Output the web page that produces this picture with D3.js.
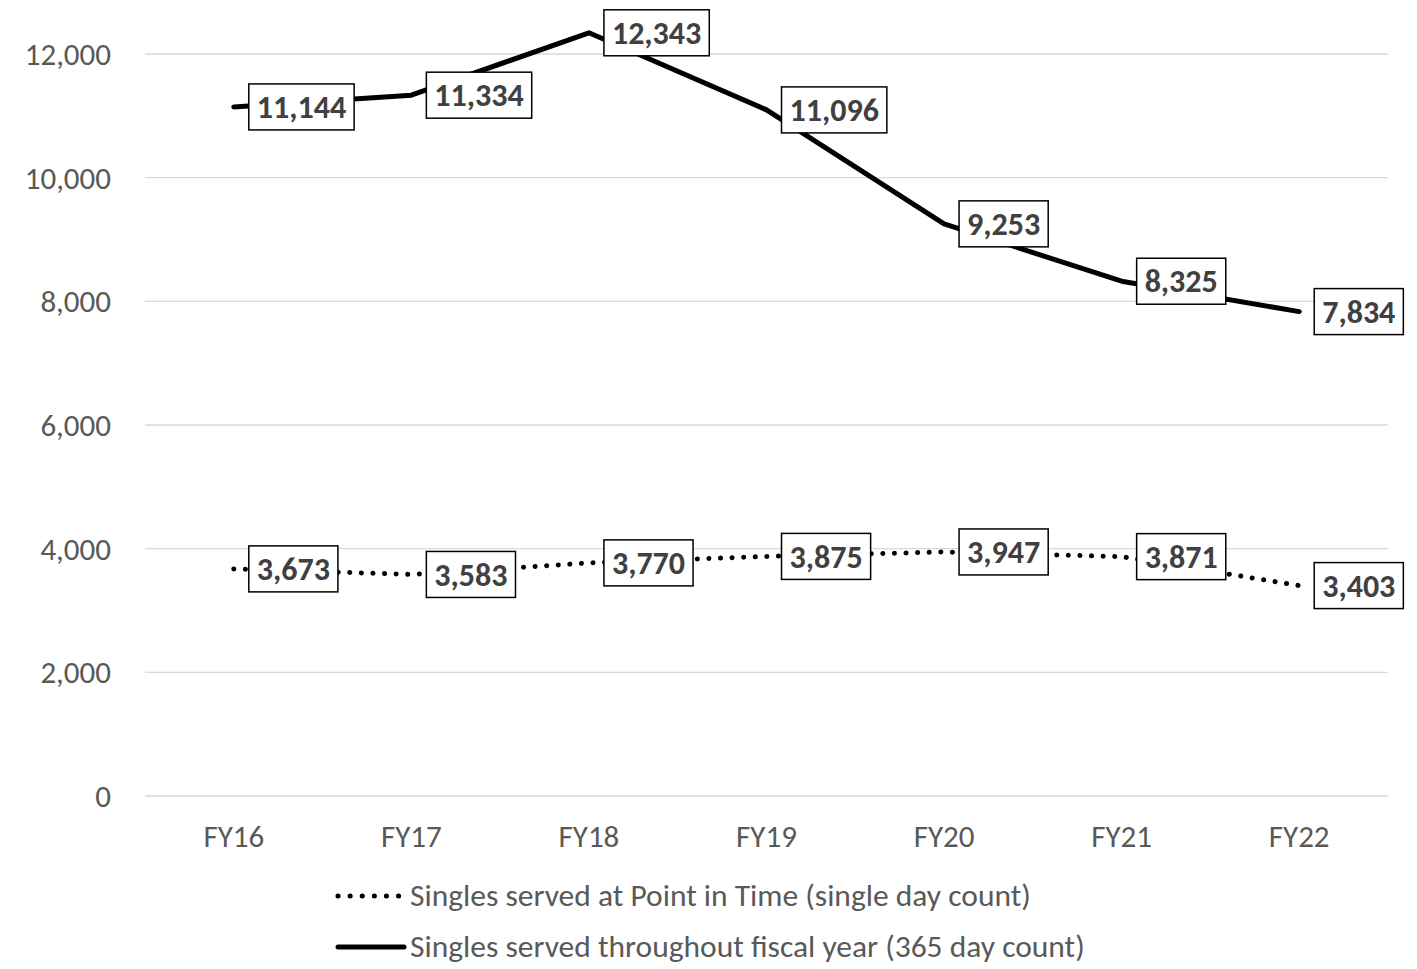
<!DOCTYPE html>
<html>
<head>
<meta charset="utf-8">
<script src="https://cdn.jsdelivr.net/npm/d3@7"></script>
<style>
  body { margin: 0; background: #fff; }
  svg { font-family: Carlito, Calibri, "Open Sans", sans-serif; }
</style>
</head>
<body>
<svg id="chart" width="1417" height="969"></svg>
<script>
const years = ["FY16", "FY17", "FY18", "FY19", "FY20", "FY21", "FY22"]
const pointInTime = [3673, 3583, 3770, 3875, 3947, 3871, 3403]
const fiscalYear = [11144, 11334, 12343, 11096, 9253, 8325, 7834]
const yTicks = [0, 2000, 4000, 6000, 8000, 10000, 12000]
const seriesNames = [
  "Singles served at Point in Time (single day count)",
  "Singles served throughout fiscal year (365 day count)"
]

const svg = d3.select("#chart")
const margin = { top: 54, right: 29, bottom: 173, left: 145 }
const W = 1417, H = 969

const x = d3.scaleBand().domain(years).range([margin.left, W - margin.right])
const y = d3.scaleLinear().domain([0, 12000]).range([H - margin.bottom, margin.top])
const cx = (d) => x(d) + x.bandwidth() / 2

// gridlines
svg.append("g").selectAll("line").data(yTicks).enter().append("line")
  .attr("x1", margin.left).attr("x2", W - margin.right)
  .attr("y1", (d) => y(d)).attr("y2", (d) => y(d))
  .attr("stroke", "#d9d9d9").attr("stroke-width", 1.3)

// y axis labels
svg.append("g").selectAll("text").data(yTicks).enter().append("text")
  .attr("x", 111).attr("y", (d) => y(d)).attr("dy", "0.35em")
  .attr("text-anchor", "end").attr("font-size", 31).attr("fill", "#595959")
  .text((d) => d3.format(",")(d))

// x axis labels
svg.append("g").selectAll("text").data(years).enter().append("text")
  .attr("x", (d) => cx(d)).attr("y", 836).attr("dy", "0.35em")
  .attr("text-anchor", "middle").attr("font-size", 31).attr("fill", "#595959")
  .text((d) => d)

const line = d3.line().x((d, i) => cx(years[i])).y((d) => y(d))

svg.append("path").datum(pointInTime).attr("d", line)
  .attr("fill", "none").attr("stroke", "#000").attr("stroke-width", 5)
  .attr("stroke-linecap", "round").attr("stroke-dasharray", "0.1 11.5")

svg.append("path").datum(fiscalYear).attr("d", line)
  .attr("fill", "none").attr("stroke", "#000").attr("stroke-width", 5)
  .attr("stroke-linecap", "round").attr("stroke-linejoin", "round")

// data labels: white boxes right of each point
function addLabels(values) {
  const g = svg.append("g")
  values.forEach((v, i) => {
    const lg = g.append("g")
    const rect = lg.append("rect")
    const t = lg.append("text")
      .attr("font-size", 32).attr("font-weight", "bold").attr("fill", "#404040")
      .attr("dy", "0.35em").text(d3.format(",")(v))
    const tw = t.node().getComputedTextLength()
    const x0 = cx(years[i]) + 15
    const yc = y(v)
    t.attr("x", x0 + 8).attr("y", yc)
    rect.attr("x", x0).attr("y", yc - 23).attr("width", tw + 16).attr("height", 46)
      .attr("fill", "#fff").attr("stroke", "#000").attr("stroke-width", 1.5)
  })
}
addLabels(fiscalYear)
addLabels(pointInTime)

// legend
const legendY = [896, 947]
const leg = svg.append("g")
legendY.forEach((ly, i) => {
  leg.append("line").attr("x1", 338).attr("x2", 404).attr("y1", ly).attr("y2", ly)
    .attr("stroke", "#000").attr("stroke-width", 5).attr("stroke-linecap", "round")
    .attr("stroke-dasharray", i === 0 ? "0.1 12" : null)
  leg.append("text").attr("x", 410).attr("y", ly).attr("dy", "0.33em")
    .attr("font-size", 31.5).attr("fill", "#595959").text(seriesNames[i])
})
</script>
</body>
</html>
